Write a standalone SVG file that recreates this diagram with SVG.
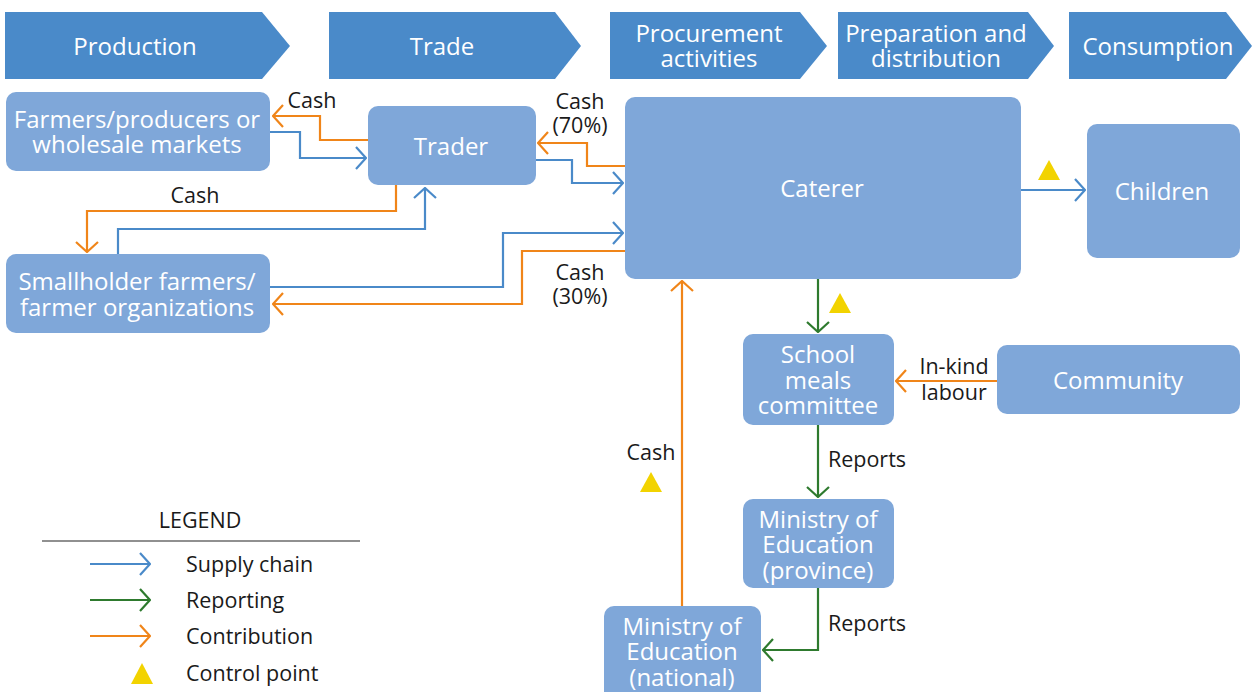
<svg xmlns="http://www.w3.org/2000/svg" width="1254" height="692" viewBox="0 0 1254 692">
<style>
.chev{fill:#4a8ac9}
.node{fill:#7fa7d9}
.nt{font-family:"Open Sans","Noto Sans",sans-serif;font-size:24px;fill:#fff;text-anchor:middle}
.lb{font-family:"Open Sans","Noto Sans",sans-serif;font-size:21.5px;fill:#1a1a1a;text-anchor:middle}
.lg{font-family:"Open Sans","Noto Sans",sans-serif;font-size:21.5px;fill:#1a1a1a}
.b{stroke:#4a8ac9;stroke-width:2.2;fill:none;marker-end:url(#ab)}
.g{stroke:#2e7a2e;stroke-width:2.2;fill:none;marker-end:url(#ag)}
.o{stroke:#f08519;stroke-width:2.2;fill:none;marker-end:url(#ao)}
.tri{fill:#f2d300}
</style>
<defs>
<marker id="ab" viewBox="0 0 12 24" refX="11" refY="12" markerWidth="12" markerHeight="24" markerUnits="userSpaceOnUse" orient="auto"><path d="M1,1 L11,12 L1,23" fill="none" stroke="#4a8ac9" stroke-width="2.2"/></marker>
<marker id="ag" viewBox="0 0 12 24" refX="11" refY="12" markerWidth="12" markerHeight="24" markerUnits="userSpaceOnUse" orient="auto"><path d="M1,1 L11,12 L1,23" fill="none" stroke="#2e7a2e" stroke-width="2.2"/></marker>
<marker id="ao" viewBox="0 0 12 24" refX="11" refY="12" markerWidth="12" markerHeight="24" markerUnits="userSpaceOnUse" orient="auto"><path d="M1,1 L11,12 L1,23" fill="none" stroke="#f08519" stroke-width="2.2"/></marker>
</defs>

<g id="stages">
<g id="stage-production"><polygon class="chev" points="5,12 262,12 290,46 262,79 5,79"/><text class="nt" x="135" y="55">Production</text></g>
<g id="stage-trade"><polygon class="chev" points="329,12 555,12 581,46 555,79 329,79"/><text class="nt" x="442" y="55">Trade</text></g>
<g id="stage-procurement"><polygon class="chev" points="610,12 800,12 827,46 800,79 610,79"/><text class="nt" x="709" y="42"><tspan x="709">Procurement</tspan><tspan x="709" dy="25">activities</tspan></text></g>
<g id="stage-preparation"><polygon class="chev" points="838,12 1028,12 1054,46 1028,79 838,79"/><text class="nt" x="936" y="42"><tspan x="936">Preparation and</tspan><tspan x="936" dy="25">distribution</tspan></text></g>
<g id="stage-consumption"><polygon class="chev" points="1069,12 1226,12 1252,46 1226,79 1069,79"/><text class="nt" x="1158" y="55">Consumption</text></g>
</g>

<g id="connectors">
<polyline class="o" points="368,140 320,140 320,116 273,116"/>
<polyline class="b" points="270,132 300,132 300,158 366,158"/>
<polyline class="o" points="396,185 396,211 87,211 87,252"/>
<polyline class="b" points="118,254 118,229 425,229 425,188"/>
<polyline class="o" points="625,166 587,166 587,143 538,143"/>
<polyline class="b" points="536,160 572,160 572,183 623,183"/>
<polyline class="b" points="270,287 503,287 503,233 623,233"/>
<polyline class="o" points="625,251 522,251 522,304 273,304"/>
<polyline class="b" points="1021,190 1085,190"/>
<polyline class="g" points="818,279 818,332"/>
<polyline class="o" points="997,381 896,381"/>
<polyline class="g" points="818,425 818,497"/>
<polyline class="g" points="818,588 818,650 763,650"/>
<polyline class="o" points="682,606 682,281"/>
<text class="lb" x="312" y="108">Cash</text>
<text class="lb" x="195" y="203">Cash</text>
<text class="lb" x="580" y="109"><tspan x="580">Cash</tspan><tspan x="580" dy="24">(70%)</tspan></text>
<text class="lb" x="580" y="280"><tspan x="580">Cash</tspan><tspan x="580" dy="24">(30%)</tspan></text>
<text class="lb" x="954" y="374"><tspan x="954">In-kind</tspan><tspan x="954" dy="26">labour</tspan></text>
<text class="lb" x="867" y="467">Reports</text>
<text class="lb" x="867" y="631">Reports</text>
<text class="lb" x="651" y="460">Cash</text>
<polygon class="tri" points="1049,160 1060,180 1038,180"/>
<polygon class="tri" points="840,293 851,313 829,313"/>
<polygon class="tri" points="651,472 662,492 640,492"/>
</g>

<g id="farmers"><rect class="node" x="6" y="92" width="264" height="79" rx="10"/><text class="nt" x="137" y="128"><tspan x="137">Farmers/producers or</tspan><tspan x="137" dy="25">wholesale markets</tspan></text></g>
<g id="trader"><rect class="node" x="368" y="106" width="168" height="79" rx="10"/><text class="nt" x="451" y="155">Trader</text></g>
<g id="smallholder"><rect class="node" x="6" y="254" width="264" height="79" rx="10"/><text class="nt" x="137" y="290"><tspan x="137">Smallholder farmers/</tspan><tspan x="137" dy="26">farmer organizations</tspan></text></g>
<g id="caterer"><rect class="node" x="625" y="97" width="396" height="182" rx="10"/><text class="nt" x="822" y="197">Caterer</text></g>
<g id="children"><rect class="node" x="1087" y="124" width="153" height="134" rx="10"/><text class="nt" x="1162" y="200">Children</text></g>
<g id="committee"><rect class="node" x="743" y="334" width="151" height="91" rx="10"/><text class="nt" x="818" y="363"><tspan x="818">School</tspan><tspan x="818" dy="26">meals</tspan><tspan x="818" dy="25">committee</tspan></text></g>
<g id="community"><rect class="node" x="997" y="345" width="243" height="69" rx="10"/><text class="nt" x="1118" y="389">Community</text></g>
<g id="moe-province"><rect class="node" x="743" y="499" width="151" height="89" rx="10"/><text class="nt" x="818" y="528"><tspan x="818">Ministry of</tspan><tspan x="818" dy="25">Education</tspan><tspan x="818" dy="26">(province)</tspan></text></g>
<g id="moe-national"><rect class="node" x="604" y="606" width="157" height="96" rx="10"/><text class="nt" x="682" y="635"><tspan x="682">Ministry of</tspan><tspan x="682" dy="25">Education</tspan><tspan x="682" dy="26">(national)</tspan></text></g>

<g id="legend">
<text class="lg" x="200" y="528" text-anchor="middle" font-size="19.5">LEGEND</text>
<line x1="42" y1="541" x2="360" y2="541" stroke="#222" stroke-width="1.2"/>
<line class="b" x1="90" y1="564" x2="150" y2="564"/>
<line class="g" x1="90" y1="600" x2="150" y2="600"/>
<line class="o" x1="90" y1="636" x2="150" y2="636"/>
<polygon class="tri" points="142,663 153,684 131,684"/>
<text class="lg" x="186" y="572">Supply chain</text>
<text class="lg" x="186" y="608">Reporting</text>
<text class="lg" x="186" y="644">Contribution</text>
<text class="lg" x="186" y="681">Control point</text>
</g>
</svg>
